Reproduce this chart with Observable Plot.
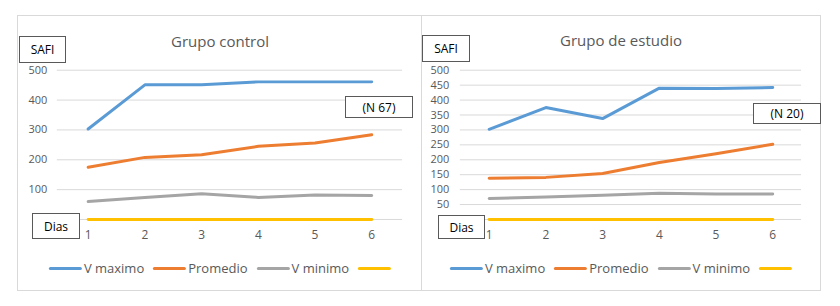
<!DOCTYPE html>
<html>
<head>
<meta charset="utf-8">
<script src="https://cdn.jsdelivr.net/npm/d3@7"></script>
<script src="https://cdn.jsdelivr.net/npm/@observablehq/plot@0.6"></script>
<style>
  body { margin: 0; background: #fff; font-family: "Open Sans", "Noto Sans", sans-serif; }
  #root { position: relative; width: 840px; height: 306px; background: #fff; }
  .panel { position: absolute; box-sizing: border-box; border: 1px solid #d9d9d9; background: #fff; }
  .panel svg { position: absolute; left: 0; top: 0; }
  .title { position: absolute; transform: translate(-50%, -50%); font-size: 15px; color: #595959; white-space: nowrap; }
  .box { position: absolute; box-sizing: border-box; border: 1px solid #595959; background: #fff; font-size: 12px; color: #000; display: flex; align-items: center; justify-content: center; }
  .legend { position: absolute; display: flex; align-items: center; font-size: 13px; color: #595959; transform: translate(-50%, -50%); white-space: nowrap; }
  .legend .sw { display: inline-block; width: 33px; height: 3px; border-radius: 2px; margin-right: 2px; }
  .legend .item { display: flex; align-items: center; margin-right: 9px; }
  .legend .item:last-child { margin-right: 0; }
</style>
</head>
<body>
<div id="root"></div>
<script>
const dias = [1, 2, 3, 4, 5, 6];
const seriesNames = ["V maximo", "Promedio", "V minimo", ""];
const seriesColors = ["#5B9BD5", "#ED7D31", "#A5A5A5", "#FFC000"];

const controlMax  = [303, 451, 451, 461, 461, 461];
const controlProm = [175, 208, 217, 245, 256, 284];
const controlMin  = [60, 74, 86, 74, 82, 80];
const controlBase = [0, 0, 0, 0, 0, 0];

const estudioMax  = [302, 375, 338, 440, 439, 442];
const estudioProm = [138, 141, 154, 191, 220, 252];
const estudioMin  = [70, 75, 81, 88, 85, 85];
const estudioBase = [0, 0, 0, 0, 0, 0];

const controlTicks = [100, 200, 300, 400, 500];
const estudioTicks = [50, 100, 150, 200, 250, 300, 350, 400, 450, 500];
const gridTicksControl = [0, 100, 200, 300, 400, 500];
const gridTicksEstudio = [0, 50, 100, 150, 200, 250, 300, 350, 400, 450, 500];

function table(seriesArrays) {
  const rows = [];
  seriesArrays.forEach((arr, s) => {
    arr.forEach((v, i) => rows.push({dia: dias[i], serie: "s" + s, valor: v}));
  });
  return rows;
}

function panel(cfg) {
  const root = document.getElementById("root");
  const p = document.createElement("div");
  p.className = "panel";
  p.style.left = cfg.left + "px";
  p.style.top = cfg.top + "px";
  p.style.width = cfg.width + "px";
  p.style.height = cfg.height + "px";
  root.appendChild(p);

  const data = table(cfg.series);
  const chart = Plot.plot({
    width: cfg.width,
    height: cfg.height,
    marginLeft: cfg.marginLeft,
    marginRight: cfg.marginRight,
    marginTop: 54,
    marginBottom: 72,
    style: {fontFamily: "'Open Sans', sans-serif", background: "transparent", overflow: "visible"},
    x: {type: "point", domain: dias, padding: 0.5},
    y: {domain: [0, 500]},
    color: {domain: ["s0", "s1", "s2", "s3"], range: seriesColors},
    marks: [
      Plot.ruleY(cfg.grid, {stroke: "#d9d9d9", strokeWidth: 1}),
      Plot.axisY(cfg.ticks, {tickSize: 0, tickPadding: cfg.tickPadY, fontSize: 11, fill: "#595959", label: null}),
      Plot.axisX(dias, {tickSize: 0, tickPadding: 11, fontSize: 12, fill: "#595959", label: null}),
      Plot.line(data, {x: "dia", y: "valor", z: "serie", stroke: "serie", strokeWidth: 3, strokeLinecap: "round", strokeLinejoin: "round"})
    ]
  });
  p.appendChild(chart);

  const t = document.createElement("div");
  t.className = "title";
  t.textContent = cfg.title;
  t.style.left = cfg.titleX + "px";
  t.style.top = cfg.titleY + "px";
  p.appendChild(t);

  cfg.boxes.forEach(b => {
    const d = document.createElement("div");
    d.className = "box";
    d.textContent = b.text;
    d.style.left = b.x + "px";
    d.style.top = b.y + "px";
    d.style.width = b.w + "px";
    d.style.height = b.h + "px";
    p.appendChild(d);
  });

  const lg = document.createElement("div");
  lg.className = "legend";
  lg.style.left = cfg.legendX + "px";
  lg.style.top = "252px";
  seriesNames.forEach((name, i) => {
    const it = document.createElement("div");
    it.className = "item";
    const sw = document.createElement("span");
    sw.className = "sw";
    sw.style.background = seriesColors[i];
    it.appendChild(sw);
    if (name) {
      const tx = document.createElement("span");
      tx.textContent = name;
      it.appendChild(tx);
    }
    lg.appendChild(it);
  });
  p.appendChild(lg);
}

panel({
  left: 17, top: 15, width: 405, height: 276,
  marginLeft: 39, marginRight: 19, tickPadY: 10,
  series: [controlMax, controlProm, controlMin, controlBase],
  ticks: controlTicks, grid: gridTicksControl,
  title: "Grupo control", titleX: 202, titleY: 25,
  boxes: [
    {text: "SAFI", x: 1, y: 20, w: 47, h: 27},
    {text: "(N 67)", x: 327, y: 80, w: 68, h: 22},
    {text: "Dias", x: 14, y: 197, w: 48, h: 26}
  ],
  legendX: 203
});

panel({
  left: 421, top: 15, width: 400, height: 276,
  marginLeft: 38, marginRight: 19, tickPadY: 11,
  series: [estudioMax, estudioProm, estudioMin, estudioBase],
  ticks: estudioTicks, grid: gridTicksEstudio,
  title: "Grupo de estudio", titleX: 199, titleY: 24,
  boxes: [
    {text: "SAFI", x: 0, y: 19, w: 48, h: 27},
    {text: "(N 20)", x: 331, y: 87, w: 68, h: 21},
    {text: "Dias", x: 16, y: 199, w: 47, h: 24}
  ],
  legendX: 200
});
</script>
</body>
</html>
